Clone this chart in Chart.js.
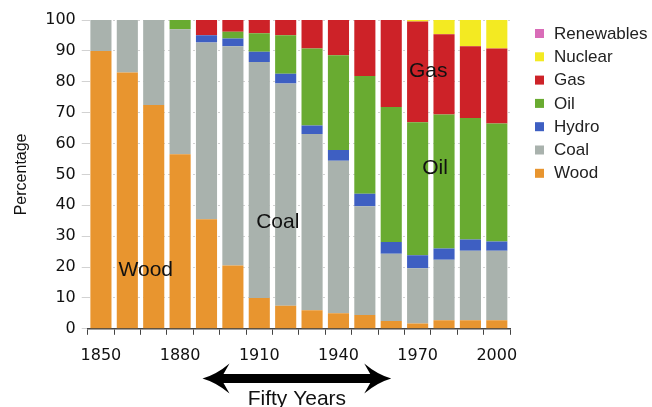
<!DOCTYPE html>
<html>
<head>
<meta charset="utf-8">
<script src="https://cdn.jsdelivr.net/npm/chart.js@4"></script>
<style>
  body { margin: 0; background: #fff; }
  #wrap { width: 652px; height: 407px; position: relative; }
</style>
</head>
<body>
<div id="wrap"><canvas id="energyChart" width="652" height="407"></canvas></div>
<script>
const years = [1850, 1860, 1870, 1880, 1890, 1900, 1910, 1920, 1930, 1940, 1950, 1960, 1970, 1980, 1990, 2000];
const yTicks = [0, 10, 20, 30, 40, 50, 60, 70, 80, 90, 100];

// shares in percent, bottom to top of each bar
const wood       = [90, 83, 72.5, 56.5, 35.5, 20.5, 10, 7.5, 6, 5, 4.5, 2.5, 1.7, 2.8, 2.8, 2.8];
const coal       = [10, 17, 27.5, 40.5, 57.2, 71, 76.4, 71.9, 57.1, 49.4, 35.2, 21.8, 17.9, 19.6, 22.5, 22.5];
const hydro      = [0, 0, 0, 0, 2.4, 2.5, 3.3, 3.2, 2.7, 3.5, 4, 3.8, 4.2, 3.6, 3.6, 3.0];
const oil        = [0, 0, 0, 3, 0, 2.2, 6, 12.5, 25, 30.7, 38.2, 43.7, 43.1, 43.4, 39.4, 38.2];
const gas        = [0, 0, 0, 0, 4.9, 3.8, 4.3, 4.9, 9.2, 11.4, 18.1, 28.2, 32.6, 26, 23.2, 24.3];
const nuclear    = [0, 0, 0, 0, 0, 0, 0, 0, 0, 0, 0, 0, 0.5, 4.6, 8.5, 9.2];
const renewables = [0, 0, 0, 0, 0, 0, 0, 0, 0, 0, 0, 0, 0, 0, 0, 0];

// in-chart labels: [text, category index, value]
const notes = [['Wood', 1.7, 19], ['Coal', 6.7, 34.5], ['Oil', 12.66, 52], ['Gas', 12.4, 83.4]];

const series = [
  { label: 'Wood', data: wood, backgroundColor: '#E8952F' },
  { label: 'Coal', data: coal, backgroundColor: '#A9B2AD' },
  { label: 'Hydro', data: hydro, backgroundColor: '#3E5FC2' },
  { label: 'Oil', data: oil, backgroundColor: '#69AB31' },
  { label: 'Gas', data: gas, backgroundColor: '#CD2228' },
  { label: 'Nuclear', data: nuclear, backgroundColor: '#F3EA22' },
  { label: 'Renewables', data: renewables, backgroundColor: '#D96CB8' }
];

const extras = {
  id: 'extras',
  afterDraw(chart) {
    const ctx = chart.ctx;
    const x = chart.scales.x, y = chart.scales.y;
    ctx.save();

    // text inside the bars
    ctx.fillStyle = '#111';
    ctx.font = '21px "Liberation Sans", Arial, sans-serif';
    ctx.textAlign = 'center';
    ctx.textBaseline = 'middle';
    notes.forEach(n => {
      const px = x.getPixelForValue(0) + n[1] * (x.getPixelForValue(1) - x.getPixelForValue(0));
      ctx.fillText(n[0], px, y.getPixelForValue(n[2]));
    });

    // legend, top item first
    ctx.font = '17px "Liberation Sans", Arial, sans-serif';
    ctx.textAlign = 'left';
    const items = chart.data.datasets.slice().reverse();
    items.forEach((d, i) => {
      const cy = 33 + i * 23.3;
      ctx.fillStyle = d.backgroundColor;
      ctx.fillRect(535, cy - 4, 9, 9);
      ctx.fillStyle = '#222';
      ctx.fillText(d.label, 554, cy + 1);
    });

    // fifty years arrow
    const x0 = x.getPixelForValue(4) - 4, x1 = x.getPixelForValue(11);
    const ay = 378.5, t = 4.5, L = 27, H = 15, J = 21;
    ctx.fillStyle = '#000';
    ctx.beginPath();
    ctx.moveTo(x0, ay);
    ctx.quadraticCurveTo(x0 + 14, ay - 4, x0 + L, ay - H);
    ctx.lineTo(x0 + J, ay - t);
    ctx.lineTo(x1 - J, ay - t);
    ctx.lineTo(x1 - L, ay - H);
    ctx.quadraticCurveTo(x1 - 14, ay - 4, x1, ay);
    ctx.quadraticCurveTo(x1 - 14, ay + 4, x1 - L, ay + H);
    ctx.lineTo(x1 - J, ay + t);
    ctx.lineTo(x0 + J, ay + t);
    ctx.lineTo(x0 + L, ay + H);
    ctx.quadraticCurveTo(x0 + 14, ay + 4, x0, ay);
    ctx.fill();

    ctx.fillStyle = '#111';
    ctx.font = '21px "Liberation Sans", Arial, sans-serif';
    ctx.textAlign = 'center';
    ctx.textBaseline = 'alphabetic';
    ctx.fillText('Fifty Years', (x0 + x1) / 2, 405);
    ctx.restore();
  }
};

new Chart(document.getElementById('energyChart'), {
  type: 'bar',
  data: { labels: years, datasets: series },
  options: {
    responsive: false,
    animation: false,
    layout: { padding: { left: 8, right: 142, top: 20, bottom: 31 } },
    datasets: { bar: { barPercentage: 0.8, categoryPercentage: 1 } },
    plugins: { legend: { display: false }, tooltip: { enabled: false } },
    scales: {
      x: {
        stacked: true,
        grid: { offset: true, drawOnChartArea: false, tickLength: 6, color: '#444' },
        border: { color: '#444', width: 1.5 },
        ticks: {
          autoSkip: false, maxRotation: 0, padding: 11,
          color: '#111', font: { family: 'DejaVu Sans', size: 16 },
          callback: (v, i) => (i % 3 === 0 ? years[i] : '')
        }
      },
      y: {
        stacked: true, min: 0, max: 100,
        afterBuildTicks: s => { s.ticks = yTicks.map(v => ({ value: v })); },
        grid: { color: '#d2d2d2', tickLength: 6, lineWidth: 1, borderDash: [2, 3] },
        border: { display: true, width: 0, dash: [2, 3] },
        ticks: { color: '#111', padding: 6, font: { family: 'DejaVu Sans', size: 16 } },
        title: {
          display: true, text: 'Percentage', color: '#111', padding: { bottom: 8 },
          font: { family: '"Liberation Sans", Arial, sans-serif', size: 16 }
        }
      }
    }
  },
  plugins: [extras]
});
</script>
</body>
</html>
